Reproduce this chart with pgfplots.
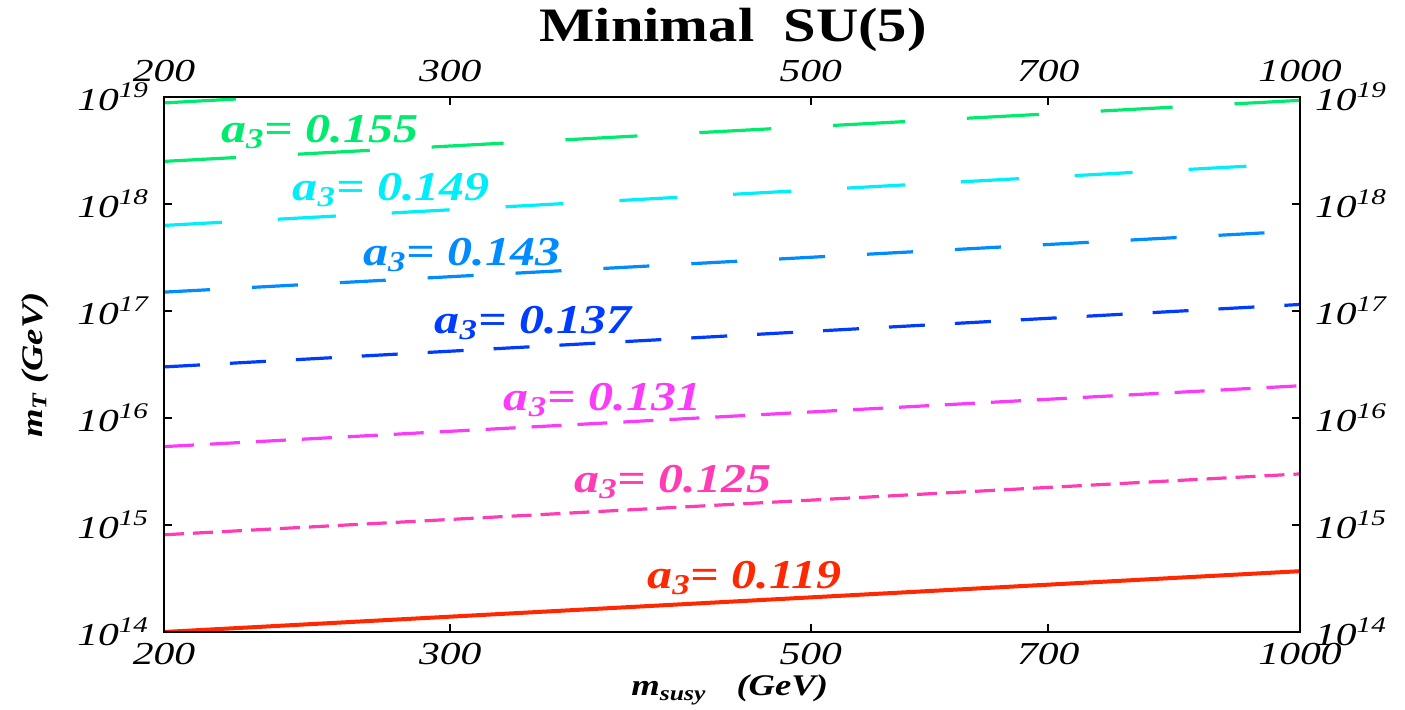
\documentclass[border=0pt]{standalone}
\usepackage{pgfplots}
\pgfplotsset{compat=1.18}
\usepackage{fontspec}
\setmainfont{Liberation Serif}[FakeStretch=1.22]
\newfontfamily\tickfont{Liberation Serif}[FakeStretch=1.3]
\definecolor{cA}{RGB}{255,40,0}
\definecolor{cB}{RGB}{255,60,180}
\definecolor{cC}{RGB}{250,60,250}
\definecolor{cD}{RGB}{0,60,255}
\definecolor{cE}{RGB}{0,140,255}
\definecolor{cF}{RGB}{0,238,250}
\definecolor{cG}{RGB}{0,235,110}
\newcommand{\lab}[1]{\bfseries\itshape a\textsubscript{3}= #1}
\begin{document}
\begin{tikzpicture}
\begin{axis}[xmode=log, ymode=log, scale only axis, width=568pt, height=267.5pt,
    xmin=200, xmax=1000, ymin=1e14, ymax=1e19,
    xtick={200,300,500,700,1000}, xticklabels={200,300,500,700,1000},
    ytick={1e14,1e15,1e16,1e17,1e18,1e19},
    yticklabels={10\textsuperscript{14},10\textsuperscript{15},10\textsuperscript{16},10\textsuperscript{17},10\textsuperscript{18},10\textsuperscript{19}},
    xminorticks=false, yminorticks=false,
    tick align=inside, major tick length=4pt,
    every tick/.style={black, line width=0.8pt},
    axis line style={black, line width=1pt},
    ticklabel style={font=\tickfont\itshape\fontsize{16}{16}\selectfont},
    xticklabel pos=lower, yticklabel pos=left,
    xticklabel style={yshift=-2pt}, yticklabel style={xshift=-4pt}]
\addplot[cA, line width=2pt] coordinates {(200,1.0e14) (1000,3.7e14)};
\addplot[cB, line width=1.6pt, dash pattern=on 10pt off 4.5pt] coordinates {(200,8.1e14) (1000,3.0e15)};
\addplot[cC, line width=1.6pt, dash pattern=on 15pt off 8pt] coordinates {(200,5.4e15) (1000,2.0e16)};
\addplot[cD, line width=1.6pt, dash pattern=on 18pt off 15pt] coordinates {(200,3.0e16) (1000,1.15e17)};
\addplot[cE, line width=1.6pt, dash pattern=on 23pt off 21pt] coordinates {(200,1.5e17) (1000,5.6e17)};
\addplot[cF, line width=1.6pt, dash pattern=on 29pt off 28pt] coordinates {(200,6.3e17) (1000,2.4e18)};
\addplot[cG, line width=1.6pt, dash pattern=on 36pt off 31pt] coordinates {(200,2.5e18) (1000,9.3e18)};
\addplot[cG, line width=1.6pt, dash pattern=on 36pt off 31pt] coordinates {(200,8.8e18) (1000,3.3e19)};
\coordinate (sw) at (rel axis cs:0,0);
\coordinate (ne) at (rel axis cs:1,1);
\coordinate (xl) at (rel axis cs:0.498,-0.108);
\coordinate (yl) at (rel axis cs:-0.1136,0.499);
\coordinate (tt) at (rel axis cs:0.501,1.125);
\coordinate (l1) at (rel axis cs:0.137,0.935);
\coordinate (l2) at (rel axis cs:0.200,0.826);
\coordinate (l3) at (rel axis cs:0.262,0.705);
\coordinate (l4) at (rel axis cs:0.325,0.578);
\coordinate (l5) at (rel axis cs:0.386,0.434);
\coordinate (l6) at (rel axis cs:0.448,0.280);
\coordinate (l7) at (rel axis cs:0.511,0.101);
\end{axis}
\begin{axis}[xmode=log, ymode=log, scale only axis, width=568pt, height=267.5pt,
    xmin=200, xmax=1000, ymin=1e14, ymax=1e19,
    xtick={200,300,500,700,1000}, xticklabels={200,300,500,700,1000},
    ytick={1e14,1e15,1e16,1e17,1e18,1e19},
    yticklabels={10\textsuperscript{14},10\textsuperscript{15},10\textsuperscript{16},10\textsuperscript{17},10\textsuperscript{18},10\textsuperscript{19}},
    xminorticks=false, yminorticks=false,
    tick align=inside, major tick length=4pt,
    every tick/.style={black, line width=0.8pt},
    axis line style={black, line width=1pt},
    ticklabel style={font=\tickfont\itshape\fontsize{16}{16}\selectfont},
    xticklabel pos=upper, yticklabel pos=right,
    xticklabel style={yshift=4pt}, yticklabel style={xshift=4pt}]
\addplot[draw=none] coordinates {(200,1e14) (1000,1e19)};
\end{axis}
\begin{scope}[font=\fontsize{20.5}{20.5}\selectfont]
\node[cG] at (l1) {\lab{0.155}};
\node[cF] at (l2) {\lab{0.149}};
\node[cE] at (l3) {\lab{0.143}};
\node[cD] at (l4) {\lab{0.137}};
\node[cC] at (l5) {\lab{0.131}};
\node[cB] at (l6) {\lab{0.125}};
\node[cA] at (l7) {\lab{0.119}};
\end{scope}
\node[font=\fontsize{24}{24}\selectfont\bfseries] at (tt) {Minimal\ \ SU(5)};
\node[font=\fontsize{15}{15}\selectfont\bfseries\itshape] at (xl) {m\textsubscript{susy}\quad (GeV)};
\node[rotate=90, font=\fontsize{15}{15}\selectfont\bfseries\itshape] at (yl) {m\textsubscript{T} (GeV)};
\pgfresetboundingbox
\path ([xshift=-82pt,yshift=-39pt]sw) rectangle ([xshift=52.5pt,yshift=48.5pt]ne);
\end{tikzpicture}
\end{document}
